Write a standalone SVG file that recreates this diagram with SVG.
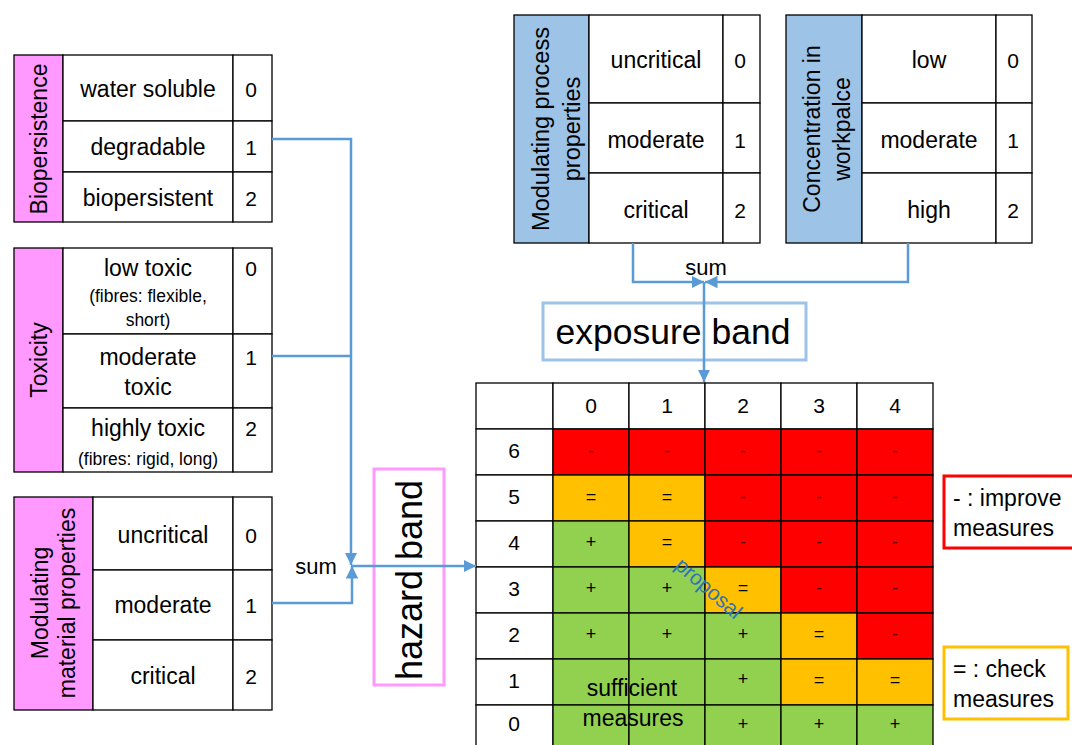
<svg xmlns="http://www.w3.org/2000/svg" width="1072" height="745" viewBox="0 0 1072 745">
<defs>
<style>
text{font-family:"Liberation Sans",Arial,sans-serif;fill:#000;text-anchor:middle;dominant-baseline:central}
.t{font-size:23px}
.s{font-size:17.5px}
.n{font-size:21px}
.c{fill:#fff;stroke:#000;stroke-width:1.3}
.pk{fill:#FF99FF;stroke:#000;stroke-width:1.3}
.bl{fill:#9DC3E6;stroke:#000;stroke-width:1.3}
.conn{fill:none;stroke:#5B9BD5;stroke-width:2.5}
.r{fill:#FF0000;stroke:#000;stroke-width:1.3}
.o{fill:#FFC000;stroke:#000;stroke-width:1.3}
.g{fill:#92D050;stroke:#000;stroke-width:1.3}
.sym{font-size:18px}
.dash{font-size:18px;fill:#5a0000}
.lg{font-size:23px;text-anchor:start}
.sum{font-size:22px}
</style>
<marker id="ah" viewBox="0 0 10 10" refX="10" refY="5" markerWidth="5" markerHeight="5" orient="auto" markerUnits="strokeWidth">
<path d="M0,0 L10,5 L0,10 z" fill="#5B9BD5"/>
</marker>
</defs>

<g id="biopersistence">
<rect class="pk" x="14" y="55" width="49" height="167"/>
<rect class="c" x="63" y="55" width="170" height="66"/>
<rect class="c" x="63" y="121" width="170" height="51"/>
<rect class="c" x="63" y="172" width="170" height="50"/>
<rect class="c" x="233" y="55" width="39" height="66"/>
<rect class="c" x="233" y="121" width="39" height="51"/>
<rect class="c" x="233" y="172" width="39" height="50"/>
<text class="t" transform="translate(39,139) rotate(-90)">Biopersistence</text>
<text class="t" x="148" y="89">water soluble</text>
<text class="t" x="148" y="147">degradable</text>
<text class="t" x="148" y="198">biopersistent</text>
<text class="n" x="251" y="89">0</text>
<text class="n" x="251" y="147">1</text>
<text class="n" x="251" y="198">2</text>
</g>

<g id="toxicity">
<rect class="pk" x="14" y="248" width="49" height="224"/>
<rect class="c" x="63" y="248" width="170" height="86"/>
<rect class="c" x="63" y="334" width="170" height="74"/>
<rect class="c" x="63" y="408" width="170" height="64"/>
<rect class="c" x="233" y="248" width="39" height="86"/>
<rect class="c" x="233" y="334" width="39" height="74"/>
<rect class="c" x="233" y="408" width="39" height="64"/>
<text class="t" transform="translate(39,360) rotate(-90)">Toxicity</text>
<text class="t" x="148" y="268">low toxic</text>
<text class="s" x="148" y="296">(fibres: flexible,</text>
<text class="s" x="148" y="320">short)</text>
<text class="t" x="148" y="357">moderate</text>
<text class="t" x="148" y="387">toxic</text>
<text class="t" x="148" y="428">highly toxic</text>
<text class="s" x="148" y="459">(fibres: rigid, long)</text>
<text class="n" x="251" y="268">0</text>
<text class="n" x="251" y="357">1</text>
<text class="n" x="251" y="428">2</text>
</g>

<g id="material">
<rect class="pk" x="14" y="497" width="79" height="213"/>
<rect class="c" x="93" y="497" width="140" height="73"/>
<rect class="c" x="93" y="570" width="140" height="70"/>
<rect class="c" x="93" y="640" width="140" height="70"/>
<rect class="c" x="233" y="497" width="39" height="73"/>
<rect class="c" x="233" y="570" width="39" height="70"/>
<rect class="c" x="233" y="640" width="39" height="70"/>
<text class="t" transform="translate(40,603) rotate(-90)">Modulating</text>
<text class="t" transform="translate(67,603) rotate(-90)">material properties</text>
<text class="t" x="163" y="535">uncritical</text>
<text class="t" x="163" y="605">moderate</text>
<text class="t" x="163" y="676">critical</text>
<text class="n" x="251" y="535">0</text>
<text class="n" x="251" y="605">1</text>
<text class="n" x="251" y="676">2</text>
</g>

<g id="process">
<rect class="bl" x="514" y="15" width="75" height="228"/>
<rect class="c" x="589" y="15" width="134" height="88"/>
<rect class="c" x="589" y="103" width="134" height="70"/>
<rect class="c" x="589" y="173" width="134" height="70"/>
<rect class="c" x="723" y="15" width="37" height="88"/>
<rect class="c" x="723" y="103" width="37" height="70"/>
<rect class="c" x="723" y="173" width="37" height="70"/>
<text transform="translate(541,129) rotate(-90)" style="font-size:23.5px">Modulating process</text>
<text transform="translate(572,129) rotate(-90)" style="font-size:23.5px">properties</text>
<text class="t" x="656" y="60">uncritical</text>
<text class="t" x="656" y="140">moderate</text>
<text class="t" x="656" y="210">critical</text>
<text class="n" x="740" y="60">0</text>
<text class="n" x="740" y="140">1</text>
<text class="n" x="740" y="210">2</text>
</g>

<g id="concentration">
<rect class="bl" x="786" y="15" width="76" height="228"/>
<rect class="c" x="862" y="15" width="134" height="88"/>
<rect class="c" x="862" y="103" width="134" height="70"/>
<rect class="c" x="862" y="173" width="134" height="70"/>
<rect class="c" x="996" y="15" width="36" height="88"/>
<rect class="c" x="996" y="103" width="36" height="70"/>
<rect class="c" x="996" y="173" width="36" height="70"/>
<text class="t" transform="translate(812,129) rotate(-90)">Concentration in</text>
<text class="t" transform="translate(842,129) rotate(-90)">workpalce</text>
<text class="t" x="929" y="60">low</text>
<text class="t" x="929" y="140">moderate</text>
<text class="t" x="929" y="210">high</text>
<text class="n" x="1013" y="60">0</text>
<text class="n" x="1013" y="140">1</text>
<text class="n" x="1013" y="210">2</text>
</g>

<g id="exposure-band">
<rect x="543" y="303" width="263" height="57" fill="#fff" stroke="#9DC3E6" stroke-width="3"/>
<text x="673" y="332" style="font-size:35.5px">exposure band</text>
</g>

<g id="hazard-band">
<rect x="374" y="469" width="70" height="216" fill="#fff" stroke="#FF99FF" stroke-width="3"/>
<text transform="translate(409,580) rotate(-90)" style="font-size:36px">hazard band</text>
</g>

<g id="matrix">
<rect class="c" x="476" y="383" width="77" height="46"/>
<rect class="c" x="553" y="383" width="76" height="46"/>
<rect class="c" x="629" y="383" width="76" height="46"/>
<rect class="c" x="705" y="383" width="76" height="46"/>
<rect class="c" x="781" y="383" width="76" height="46"/>
<rect class="c" x="857" y="383" width="76" height="46"/>
<text class="n" x="591" y="405">0</text>
<text class="n" x="667" y="405">1</text>
<text class="n" x="743" y="405">2</text>
<text class="n" x="819" y="405">3</text>
<text class="n" x="895" y="405">4</text>
<rect class="c" x="476" y="429" width="77" height="46"/>
<rect class="c" x="476" y="475" width="77" height="46"/>
<rect class="c" x="476" y="521" width="77" height="46"/>
<rect class="c" x="476" y="567" width="77" height="46"/>
<rect class="c" x="476" y="613" width="77" height="46"/>
<rect class="c" x="476" y="659" width="77" height="46"/>
<rect class="c" x="476" y="705" width="77" height="46"/>
<text class="n" x="514" y="450">6</text>
<text class="n" x="514" y="496">5</text>
<text class="n" x="514" y="542">4</text>
<text class="n" x="514" y="588">3</text>
<text class="n" x="514" y="634">2</text>
<text class="n" x="514" y="680">1</text>
<text class="n" x="514" y="723">0</text>
<!-- row 6 -->
<rect class="r" x="553" y="429" width="76" height="46"/>
<rect class="r" x="629" y="429" width="76" height="46"/>
<rect class="r" x="705" y="429" width="76" height="46"/>
<rect class="r" x="781" y="429" width="76" height="46"/>
<rect class="r" x="857" y="429" width="76" height="46"/>
<!-- row 5 -->
<rect class="o" x="553" y="475" width="76" height="46"/>
<rect class="o" x="629" y="475" width="76" height="46"/>
<rect class="r" x="705" y="475" width="76" height="46"/>
<rect class="r" x="781" y="475" width="76" height="46"/>
<rect class="r" x="857" y="475" width="76" height="46"/>
<!-- row 4 -->
<rect class="g" x="553" y="521" width="76" height="46"/>
<rect class="o" x="629" y="521" width="76" height="46"/>
<rect class="r" x="705" y="521" width="76" height="46"/>
<rect class="r" x="781" y="521" width="76" height="46"/>
<rect class="r" x="857" y="521" width="76" height="46"/>
<!-- row 3 -->
<rect class="g" x="553" y="567" width="76" height="46"/>
<rect class="g" x="629" y="567" width="76" height="46"/>
<rect class="o" x="705" y="567" width="76" height="46"/>
<rect class="r" x="781" y="567" width="76" height="46"/>
<rect class="r" x="857" y="567" width="76" height="46"/>
<!-- row 2 -->
<rect class="g" x="553" y="613" width="76" height="46"/>
<rect class="g" x="629" y="613" width="76" height="46"/>
<rect class="g" x="705" y="613" width="76" height="46"/>
<rect class="o" x="781" y="613" width="76" height="46"/>
<rect class="r" x="857" y="613" width="76" height="46"/>
<!-- row 1 -->
<rect class="g" x="553" y="659" width="76" height="46"/>
<rect class="g" x="629" y="659" width="76" height="46"/>
<rect class="g" x="705" y="659" width="76" height="46"/>
<rect class="o" x="781" y="659" width="76" height="46"/>
<rect class="o" x="857" y="659" width="76" height="46"/>
<!-- row 0 -->
<rect class="g" x="553" y="705" width="76" height="46"/>
<rect class="g" x="629" y="705" width="76" height="46"/>
<rect class="g" x="705" y="705" width="76" height="46"/>
<rect class="g" x="781" y="705" width="76" height="46"/>
<rect class="g" x="857" y="705" width="76" height="46"/>
<!-- symbols -->
<text class="dash" x="591" y="451">-</text>
<text class="dash" x="667" y="451">-</text>
<text class="dash" x="743" y="451">-</text>
<text class="dash" x="819" y="451">-</text>
<text class="dash" x="895" y="451">-</text>
<text class="sym" x="591" y="497">=</text>
<text class="sym" x="667" y="497">=</text>
<text class="dash" x="743" y="497">-</text>
<text class="dash" x="819" y="497">-</text>
<text class="dash" x="895" y="497">-</text>
<text class="sym" x="591" y="542">+</text>
<text class="sym" x="667" y="542">=</text>
<text class="dash" x="743" y="542">-</text>
<text class="dash" x="819" y="542">-</text>
<text class="dash" x="895" y="542">-</text>
<text class="sym" x="591" y="588">+</text>
<text class="sym" x="667" y="588">+</text>
<text class="sym" x="743" y="588">=</text>
<text class="dash" x="819" y="588">-</text>
<text class="dash" x="895" y="588">-</text>
<text class="sym" x="591" y="634">+</text>
<text class="sym" x="667" y="634">+</text>
<text class="sym" x="743" y="634">+</text>
<text class="sym" x="819" y="634">=</text>
<text class="dash" x="895" y="634">-</text>
<text class="sym" x="743" y="679">+</text>
<text class="sym" x="819" y="680">=</text>
<text class="sym" x="895" y="680">=</text>
<text class="sym" x="743" y="724">+</text>
<text class="sym" x="819" y="724">+</text>
<text class="sym" x="895" y="724">+</text>
<text x="632" y="688" style="font-size:23px">sufficient</text>
<text x="633" y="718" style="font-size:23px">measures</text>
<text transform="translate(709,588) rotate(41)" style="font-size:21px;fill:#2E75B6">proposal</text>
</g>

<g id="legend-improve">
<rect x="944" y="476" width="140" height="72" fill="#fff" stroke="#FF0000" stroke-width="3"/>
<text class="lg" x="953" y="498">- : improve</text>
<text class="lg" x="953" y="528">measures</text>
</g>

<g id="legend-check">
<rect x="944" y="647" width="124" height="72" fill="#fff" stroke="#FFC000" stroke-width="3"/>
<text class="lg" x="953" y="669">= : check</text>
<text class="lg" x="953" y="699">measures</text>
</g>

<g id="connectors">
<polyline class="conn" points="272,139 351,139 351,565" marker-end="url(#ah)"/>
<line class="conn" x1="272" y1="356" x2="351" y2="356"/>
<polyline class="conn" points="272,603 352,603 352,566" marker-end="url(#ah)"/>
<line class="conn" x1="351" y1="566" x2="476" y2="566" marker-end="url(#ah)"/>
<polyline class="conn" points="633,243 633,282 704,282" marker-end="url(#ah)"/>
<polyline class="conn" points="908,243 908,282 705,282" marker-end="url(#ah)"/>
<line class="conn" x1="704" y1="282" x2="704" y2="382" marker-end="url(#ah)"/>
<text class="sum" x="316" y="566">sum</text>
<text class="sum" x="706" y="267">sum</text>
</g>
</svg>
